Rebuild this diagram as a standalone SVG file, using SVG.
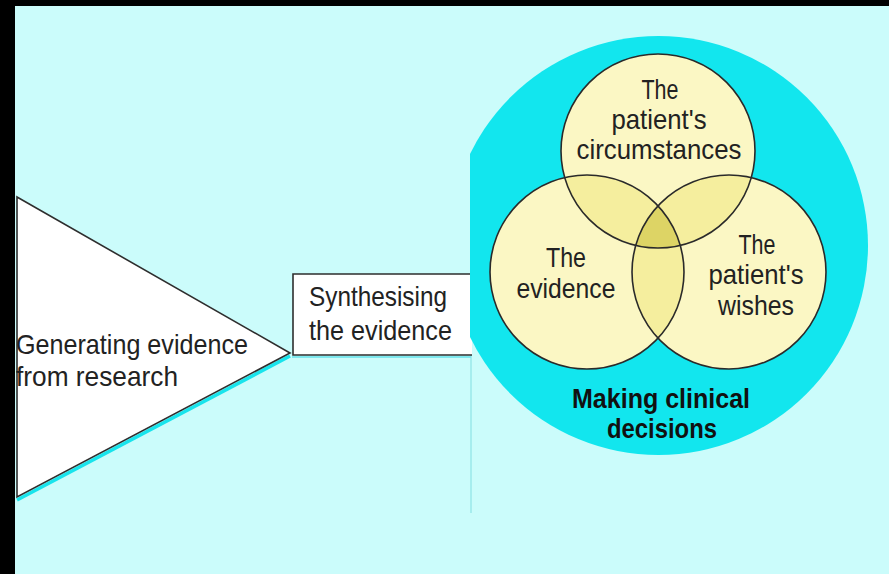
<svg xmlns="http://www.w3.org/2000/svg" width="889" height="574" viewBox="0 0 889 574">
  <style>
    .lbl { font-family: "Liberation Sans", Arial, sans-serif; font-size: 28px; fill: #222; }
    .mid { text-anchor: middle; }
    .bold { font-weight: bold; fill: #111; }
    .edge { stroke: #2e2e2e; stroke-width: 1.6; }
    .venn { fill: #fbf7c4; }
    .pair { fill: #f5ee9e; }
    .triple { fill: #ddd465; }
    .ring { fill: none; stroke: #2a2a2a; stroke-width: 1.6; }
  </style>
  <defs>
    <clipPath id="cpTop"><circle cx="658" cy="151" r="97"/></clipPath>
    <clipPath id="cpLeft"><circle cx="587" cy="272" r="97"/></clipPath>
    <clipPath id="cpRight"><circle cx="729" cy="272" r="97"/></clipPath>
    <clipPath id="cpRightOfLine"><rect x="470" y="0" width="419" height="574"/></clipPath>
  </defs>

  <!-- frame and background -->
  <rect x="0" y="0" width="889" height="574" fill="#000"/>
  <rect x="15" y="6" width="874" height="568" fill="#cbfcfb"/>
  <line x1="471" y1="337" x2="471" y2="513" stroke="#9ae8ea" stroke-width="1.5"/>

  <!-- Generating evidence (triangle) -->
  <g id="generating">
    <polyline points="290,356 17,500" fill="none" stroke="#18e4ec" stroke-width="3.5"/>
    <polygon points="17,197 290,353 17,497" fill="#ffffff" class="edge"/>
    <text class="lbl" x="16" y="354" textLength="232" lengthAdjust="spacingAndGlyphs">Generating evidence</text>
    <text class="lbl" x="16" y="386" textLength="162" lengthAdjust="spacingAndGlyphs">from research</text>
  </g>

  <!-- Synthesising the evidence (box) -->
  <g id="synthesising">
    <line x1="292" y1="357" x2="471" y2="357" stroke="#7ee8ee" stroke-width="2"/>
    <path d="M472,274 H293 V355 H472" fill="#ffffff" class="edge"/>
    <text class="lbl" x="309" y="306" textLength="138" lengthAdjust="spacingAndGlyphs">Synthesising</text>
    <text class="lbl" x="309" y="340" textLength="143" lengthAdjust="spacingAndGlyphs">the evidence</text>
  </g>

  <!-- Making clinical decisions (cyan disc with Venn) -->
  <g id="decisions">
    <circle cx="658.5" cy="245.5" r="209.5" fill="#12e6ee" clip-path="url(#cpRightOfLine)"/>
    <text class="lbl bold mid" x="661" y="408" textLength="178" lengthAdjust="spacingAndGlyphs">Making clinical</text>
    <text class="lbl bold mid" x="662" y="438" textLength="110" lengthAdjust="spacingAndGlyphs">decisions</text>
  </g>

  <g id="venn-fills">
    <circle class="venn" cx="658" cy="151" r="97"/>
    <circle class="venn" cx="587" cy="272" r="97"/>
    <circle class="venn" cx="729" cy="272" r="97"/>
    <circle class="pair" cx="587" cy="272" r="97" clip-path="url(#cpTop)"/>
    <circle class="pair" cx="729" cy="272" r="97" clip-path="url(#cpTop)"/>
    <circle class="pair" cx="729" cy="272" r="97" clip-path="url(#cpLeft)"/>
    <g clip-path="url(#cpTop)">
      <circle class="triple" cx="729" cy="272" r="97" clip-path="url(#cpLeft)"/>
    </g>
  </g>

  <g id="circumstances">
    <circle class="ring" cx="658" cy="151" r="97"/>
    <text class="lbl mid" x="660" y="99" textLength="37" lengthAdjust="spacingAndGlyphs">The</text>
    <text class="lbl mid" x="659" y="129" textLength="95" lengthAdjust="spacingAndGlyphs">patient's</text>
    <text class="lbl mid" x="659" y="159" textLength="165" lengthAdjust="spacingAndGlyphs">circumstances</text>
  </g>

  <g id="evidence">
    <circle class="ring" cx="587" cy="272" r="97"/>
    <text class="lbl mid" x="566" y="267" textLength="40" lengthAdjust="spacingAndGlyphs">The</text>
    <text class="lbl mid" x="566" y="298" textLength="99" lengthAdjust="spacingAndGlyphs">evidence</text>
  </g>

  <g id="wishes">
    <circle class="ring" cx="729" cy="272" r="97"/>
    <text class="lbl mid" x="757" y="254" textLength="37" lengthAdjust="spacingAndGlyphs">The</text>
    <text class="lbl mid" x="756" y="284" textLength="95" lengthAdjust="spacingAndGlyphs">patient's</text>
    <text class="lbl mid" x="756" y="315" textLength="76" lengthAdjust="spacingAndGlyphs">wishes</text>
  </g>

  <g id="connectors"></g>
</svg>
